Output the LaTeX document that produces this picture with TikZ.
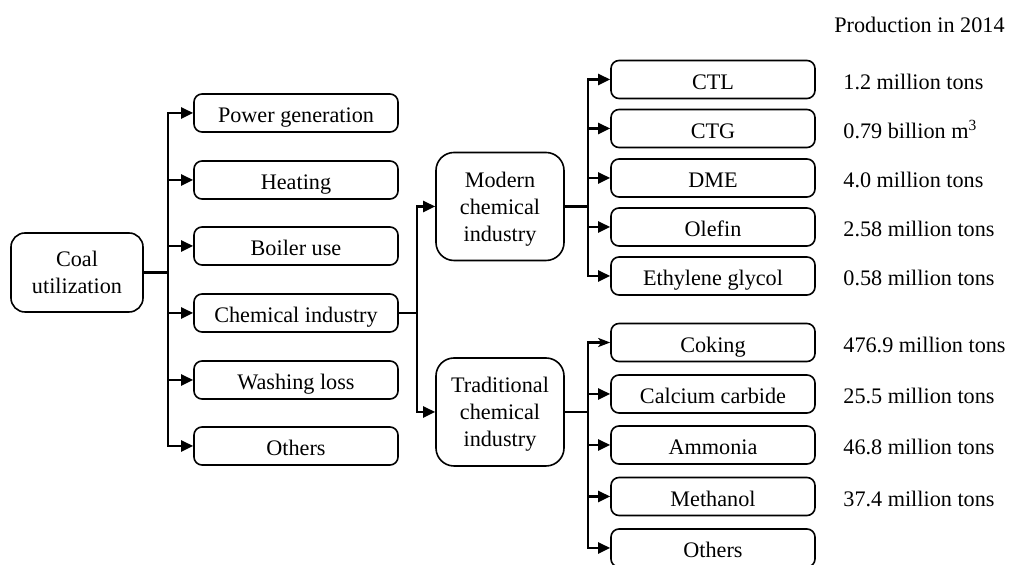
\documentclass[tikz,border=0pt]{standalone}
\usepackage{fontspec}
\setmainfont{Liberation Serif}
\usepackage{tikz}
\usetikzlibrary{arrows.meta}

\begin{document}
\begin{tikzpicture}[x=0.5pt,y=-0.5pt,
    every node/.style={font=\fontsize{11.1}{13.5}\selectfont},
    box/.style={draw, line width=0.8pt, rounded corners=4pt, inner sep=0pt,
      minimum width=102pt, minimum height=19pt, text height=10pt, text depth=0pt},
    bigbox/.style={draw, line width=0.8pt, rounded corners=9pt, inner sep=0pt,
      minimum width=64pt, minimum height=54pt, align=center, text depth=0pt},
    val/.style={anchor=west, inner sep=0pt, text height=10pt, text depth=0pt},
    conn/.style={line width=1.2pt},
    arr/.style={line width=1.2pt, -{Triangle[length=6pt,width=5.5pt]}}]
      \clip (0,0) rectangle (1009,565);
      \node (Coal) at (77,272.5) [bigbox, minimum width=66pt, minimum height=39.5pt, rounded corners=7pt] {Coal\\utilization};
      \node (Power) at (296,113) [box] {Power generation};
      \node (Heat) at (296,180) [box] {Heating};
      \node (Boiler) at (296,246) [box] {Boiler use};
      \node (Chem) at (296,313) [box] {Chemical industry};
      \node (Wash) at (296,380) [box] {Washing loss};
      \node (OthA) at (296,446) [box] {Others};
      \node (Modern) at (500,206.5) [bigbox] {Modern\\chemical\\industry};
      \node (Trad) at (500,412) [bigbox] {Traditional\\chemical\\industry};
      \node (CTL) at (713,79.5) [box] {CTL};
      \node (CTG) at (713,128.5) [box] {CTG};
      \node (DME) at (713,178) [box] {DME};
      \node (Olefin) at (713,227) [box] {Olefin};
      \node (Glycol) at (713,276) [box] {Ethylene glycol};
      \node (Coking) at (713,342.5) [box] {Coking};
      \node (Carbide) at (713,394) [box] {Calcium carbide};
      \node (Ammonia) at (713,445) [box] {Ammonia};
      \node (Methanol) at (713,496.5) [box] {Methanol};
      \node (OthB) at (713,548) [box] {Others};
      % production figures
      \node (Prod) at (1005,23) [anchor=east, inner sep=0pt, text height=10pt, text depth=0pt] {Production in 2014};
      \node (vCTL) at (843,79.5) [val] {1.2 million tons};
      \node (vCTG) at (843,128.5) [val] {0.79 billion m\textsuperscript{3}};
      \node (vDME) at (843,178) [val] {4.0 million tons};
      \node (vOlefin) at (843,227) [val] {2.58 million tons};
      \node (vGlycol) at (843,276) [val] {0.58 million tons};
      \node (vCoking) at (843,342.5) [val] {476.9 million tons};
      \node (vCarbide) at (843,394) [val] {25.5 million tons};
      \node (vAmmonia) at (843,445) [val] {46.8 million tons};
      \node (vMethanol) at (843,496.5) [val] {37.4 million tons};
      % branch points
      \coordinate (J1) at (168,272.5);
      \coordinate (J2) at (417,313);
      \coordinate (J3) at (588,206.5);
      \coordinate (J4) at (588,412);
      \draw[conn] (Coal.east) to (J1) (Chem.east) to (J2) (Modern.east) to (J3) (Trad.east) to (J4);
      \foreach \n in {Power,Heat,Boiler,Chem,Wash,OthA}
        \draw[arr] (J1) |- (\n.west);
      \foreach \n in {Modern,Trad}
        \draw[arr] (J2) |- (\n.west);
      \foreach \n in {CTL,CTG,DME,Olefin,Glycol}
        \draw[arr] (J3) |- (\n.west);
      \foreach \n in {Carbide,Ammonia,Methanol,OthB}
        \draw[arr] (J4) |- (\n.west);
      \draw[conn, -{Stealth[length=6pt,width=4.5pt,inset=1.5pt]}] (J4) |- (Coking.west);
\end{tikzpicture}
\end{document}
